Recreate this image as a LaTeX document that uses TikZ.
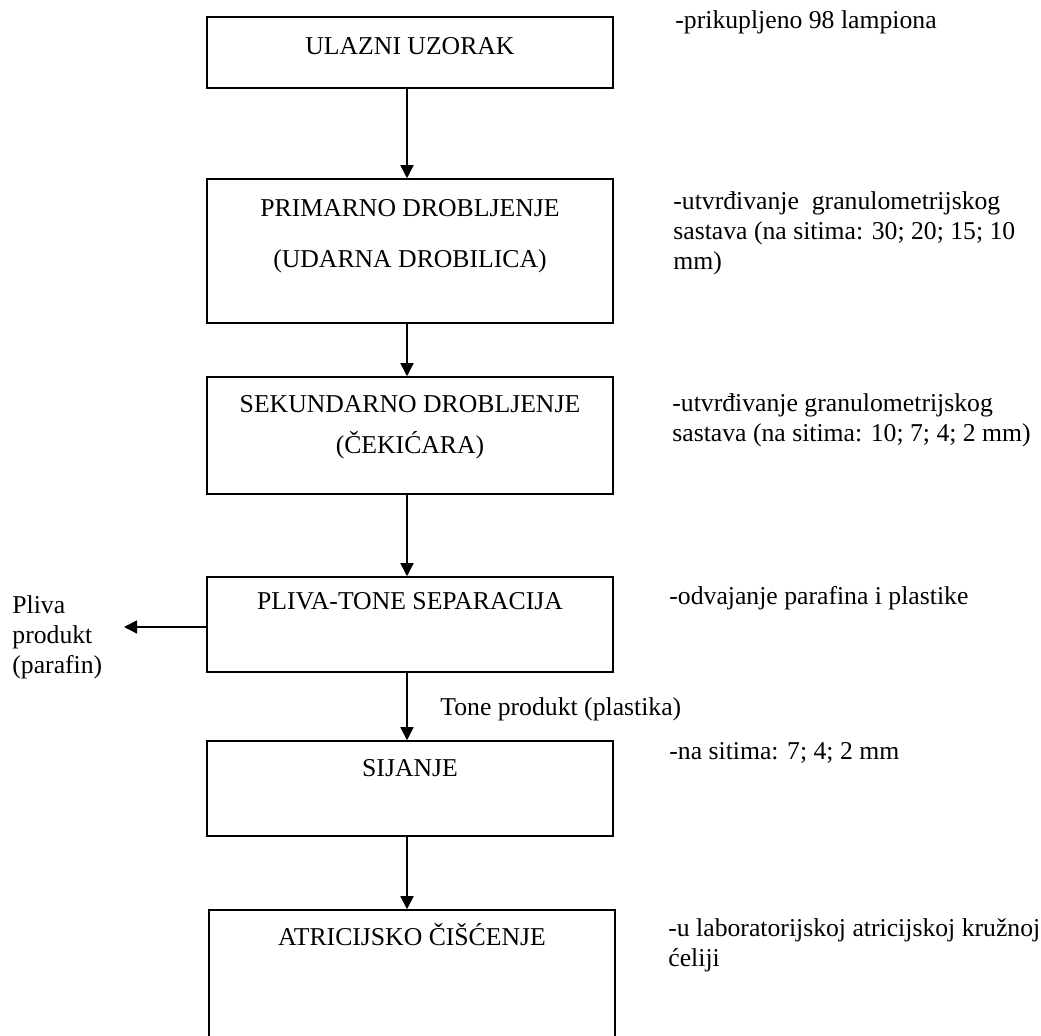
\documentclass[tikz,border=0pt]{standalone}
\usepackage{fontspec}
\setmainfont{Liberation Serif}
\usetikzlibrary{arrows.meta}
\tikzset{
  box/.style={draw, line width=0.75pt, rectangle, inner sep=0pt, minimum width=203pt},
  lbl/.style={inner sep=0pt, anchor=base, font=\fontsize{12.85pt}{15pt}\selectfont},
  ann/.style={inner sep=0pt, anchor=base west, align=left, font=\fontsize{12.85pt}{15pt}\selectfont},
  arr/.style={line width=0.75pt, -{Triangle[width=6.5pt,length=6.5pt]}}
}
\begin{document}
\begin{tikzpicture}[x=0.5pt,y=-0.5pt]
\useasboundingbox (0,0) rectangle (1041,1036);
\clip (0,0) rectangle (1041,1036);
% boxes
\node[box, minimum height=35.5pt] (b1) at (410,52.5) {};
\node[box, minimum height=72pt] (b2) at (410,251) {};
\node[box, minimum height=58.5pt] (b3) at (410,435.5) {};
\node[box, minimum height=47.5pt] (b4) at (410,624.5) {};
\node[box, minimum height=47.5pt] (b5) at (410,788.5) {};
\node[box, minimum height=70pt] (b6) at (412,980) {};
% box texts
\node[lbl] (t1) at (410,55) {ULAZNI UZORAK};
\node[lbl] (t2a) at (410,217) {PRIMARNO DROBLJENJE};
\node[lbl] (t2b) at (410,268) {(UDARNA DROBILICA)};
\node[lbl] (t3a) at (410,413) {SEKUNDARNO DROBLJENJE};
\node[lbl] (t3b) at (410,454) {(ČEKIĆARA)};
\node[lbl] (t4) at (410,610) {PLIVA-TONE SEPARACIJA};
\node[lbl] (t5) at (410,777) {SIJANJE};
\node[lbl] (t6) at (412,946) {ATRICIJSKO ČIŠĆENJE};
% annotations (base = baseline of last line)
\node[ann] (a1) at (675,29) {-prikupljeno 98 lampiona};
\node[ann] (a2) at (673,270) {-utvrđivanje\ \ granulometrijskog\\sastava (na sitima: 30; 20; 15; 10\\mm)};
\node[ann] (a3) at (672,442) {-utvrđivanje granulometrijskog\\sastava (na sitima: 10; 7; 4; 2 mm)};
\node[ann] (a4) at (669,605) {-odvajanje parafina i plastike};
\node[ann] (a5) at (669,760) {-na sitima: 7; 4; 2 mm};
\node[ann] (a6) at (668,967) {-u laboratorijskoj atricijskoj kružnoj\\ćeliji};
\node[ann] (tone) at (440,716) {Tone produkt (plastika)};
\node[ann] (pliva) at (12,674) {Pliva\\produkt\\(parafin)};
% connectors
\coordinate (ax) at (407,0);
\coordinate (sy) at (0,627);
\coordinate (ptip) at (124,627);
\draw[arr] (b1.south -| ax) -- (b2.north -| ax);
\draw[arr] (b2.south -| ax) -- (b3.north -| ax);
\draw[arr] (b3.south -| ax) -- (b4.north -| ax);
\draw[arr] (b4.south -| ax) -- (b5.north -| ax);
\draw[arr] (b5.south -| ax) -- (b6.north -| ax);
\draw[arr] (b4.west |- sy) -- (ptip);
\end{tikzpicture}
\end{document}
